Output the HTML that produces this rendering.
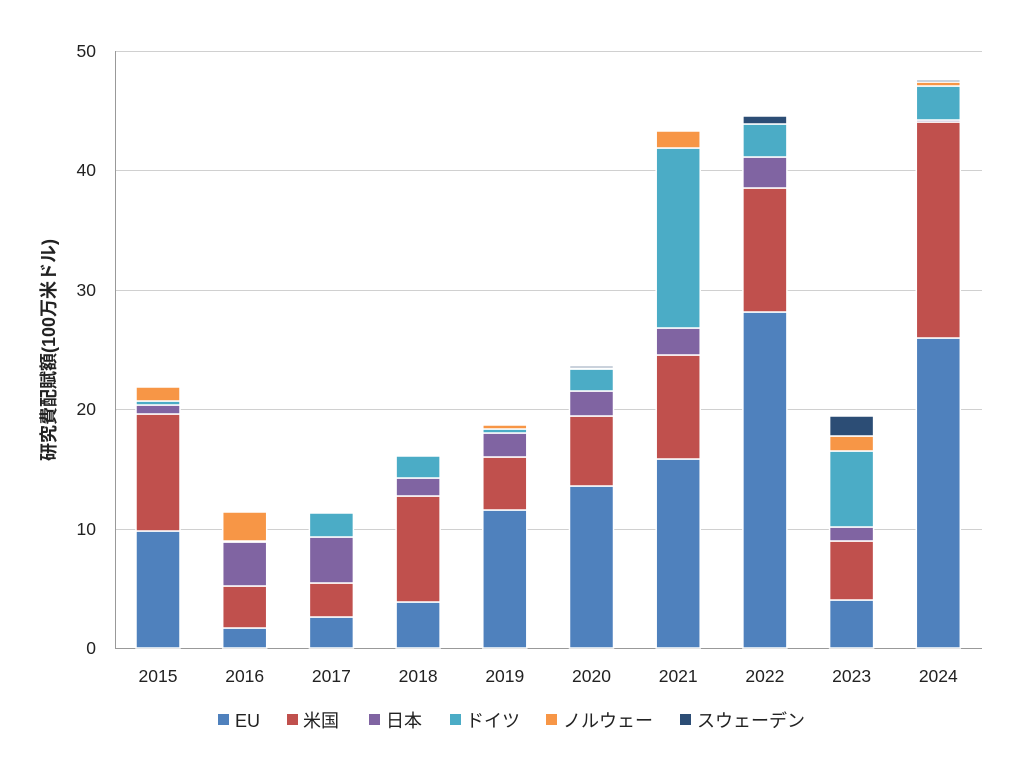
<!DOCTYPE html><html><head><meta charset="utf-8"><style>body{margin:0;background:#fff}svg{display:block}text{font-family:"Liberation Sans","Noto Sans CJK JP",sans-serif;fill:#222}</style></head><body>
<svg id="s" width="1024" height="768" xmlns="http://www.w3.org/2000/svg">
<g stroke="#d0d0d0" stroke-width="1">
<line x1="115" x2="982" y1="51.5" y2="51.5"/><line x1="115" x2="982" y1="170.5" y2="170.5"/><line x1="115" x2="982" y1="290.5" y2="290.5"/><line x1="115" x2="982" y1="409.5" y2="409.5"/><line x1="115" x2="982" y1="529.5" y2="529.5"/>
</g>
<line x1="115" x2="982" y1="648.5" y2="648.5" stroke="#999"/>
<line x1="115.5" x2="115.5" y1="51" y2="648" stroke="#999"/>
<g font-size="17.5" text-anchor="end"><text x="96" y="654">0</text><text x="96" y="535">10</text><text x="96" y="415">20</text><text x="96" y="296">30</text><text x="96" y="176">40</text><text x="96" y="57">50</text></g>
<text transform="translate(55,350) rotate(-90)" text-anchor="middle" font-size="18" font-weight="bold">研究費配賦額(100万米ドル)</text>
<g id="bars"></g>
<g font-size="17.5" text-anchor="middle" id="xl"></g>
<g font-size="18">
<rect x="218" y="714" width="11" height="11" fill="#4f81bd"/><text x="235" y="727">EU</text>
<rect x="287" y="714" width="11" height="11" fill="#c0504d"/><text x="303" y="727">米国</text>
<rect x="369" y="714" width="11" height="11" fill="#8064a2"/><text x="386" y="727">日本</text>
<rect x="450" y="714" width="11" height="11" fill="#4bacc6"/><text x="466" y="727">ドイツ</text>
<rect x="546" y="714" width="11" height="11" fill="#f79646"/><text x="563" y="727">ノルウェー</text>
<rect x="680" y="714" width="11" height="11" fill="#2c4d75"/><text x="697" y="727">スウェーデン</text>
</g>
</svg>
<script>
var cols=["#4f81bd","#c0504d","#8064a2","#4bacc6","#f79646","#2c4d75"];
var d=[[531,414,405,401,387,387],[628,586,542,541,512,512],[617,583,537,513,513,513],[602,496,478,456,456,456],[510,457,433,429,425,425],[486,416,391,369,368,366],[459,355,328,148,131,131],[312,188,157,124,124,116],[600,541,527,451,436,416],[338,122,120,86,82,80]];
var g=document.getElementById("bars"),xl=document.getElementById("xl"),h="";
d.forEach(function(b,i){var cx=158+i*86.7,prev=648;b.forEach(function(t,j){if(prev-t>0){h+='<rect x="'+(cx-22)+'" y="'+t+'" width="44" height="'+(prev-t)+'" fill="'+cols[j]+'" stroke="#fff" stroke-width="1.5"/>';}prev=t;});
xl.innerHTML+='<text x="'+cx+'" y="682">'+(2015+i)+'</text>';});
g.innerHTML=h;
</script>
</body></html>
